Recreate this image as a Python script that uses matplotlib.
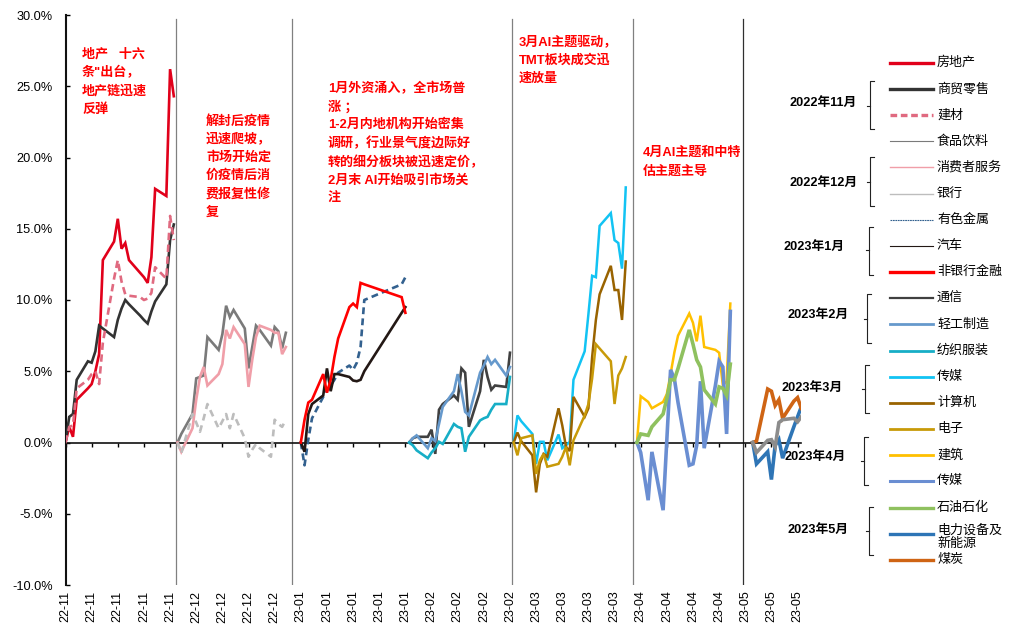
import matplotlib
matplotlib.use("Agg")
import matplotlib.pyplot as plt
import matplotlib.dates as mdates
from matplotlib.lines import Line2D
import pandas as pd

plt.rcParams["font.family"] = ["Liberation Sans", "Noto Sans CJK SC"]
plt.rcParams["axes.unicode_minus"] = False

W, H = 1013, 624

# ---- trading days of each month -------------------------------------------
nov_days = [1, 2, 3, 4, 7, 8, 9, 10, 11, 14, 15, 16, 17, 18, 21, 22, 23, 24, 25, 28, 29, 30]
dec_days = [1, 2, 5, 6, 7, 8, 9, 12, 13, 14, 15, 16, 19, 20, 21, 22, 23, 26, 27, 28, 29, 30]
jan_days = [3, 4, 5, 6, 9, 10, 11, 12, 13, 16, 17, 18, 19, 20, 30, 31]
feb_days = [1, 2, 3, 6, 7, 8, 9, 10, 13, 14, 15, 16, 17, 20, 21, 22, 23, 24, 27, 28]
mar_days = [1, 2, 3, 6, 7, 8, 9, 10, 13, 14, 15, 16, 17, 20, 21, 22, 23, 24, 27, 28, 29, 30, 31]
apr_days = [3, 4, 6, 7, 10, 11, 12, 13, 14, 17, 18, 19, 20, 21, 24, 25, 26, 27, 28]
may_days = [4, 5, 8, 9, 10, 11, 12, 15, 16, 17]

# ---- cumulative returns within the month (%) -------------------------------
nov_realestate = [0, 1.1, 0.4, 3.0, 3.8, 4.1, 5.0, 6.2, 12.8, 14.1, 15.7, 13.6, 14.0, 12.8, 11.9, 11.6, 11.2, 13.0, 17.8, 17.3, 26.2, 24.3]
nov_retail = [0, 1.8, 2.0, 4.4, 5.7, 5.6, 6.4, 8.2, 8.0, 7.4, 8.6, 9.4, 10.0, 9.7, 8.9, 8.6, 8.35, 9.2, 9.9, 11.1, 14.2, 15.3]
nov_buildmat = [0, 1.1, 1.2, 3.8, 4.4, 4.8, 5.0, 4.1, 7.0, 11.5, 12.8, 11.3, 10.4, 10.3, 10.2, 10.0, 10.1, 10.5, 12.3, 11.5, 15.9, 14.2]

dec_food = [0, 0.6, 2.0, 4.5, 4.6, 4.7, 7.4, 6.5, 7.6, 9.6, 8.8, 9.3, 8.0, 5.2, 6.7, 8.2, 7.9, 6.8, 8.1, 7.8, 6.6, 7.7]
dec_consumer = [0, -0.65, 1.0, 3.0, 4.6, 5.3, 4.0, 4.8, 5.5, 7.9, 7.3, 8.1, 6.9, 3.9, 5.8, 7.4, 8.2, 7.9, 7.7, 7.7, 6.2, 6.7]
dec_bank = [0, -0.75, 2.0, 1.4, 0.75, 1.7, 2.7, 1.0, 1.5, 2.0, 1.0, 2.0, 0.3, -1.0, -0.5, -0.1, -0.4, -1.0, 1.6, 1.3, 1.1, 1.6]

jan_metals = [0, -1.6, 0.2, 1.7, 3.2, 3.7, 4.0, 4.4, 4.9, 5.4, 5.1, 5.6, 6.7, 10.0, 11.1, 11.6]
jan_auto = [0, -0.65, 2.0, 2.7, 3.3, 5.2, 3.6, 4.8, 4.8, 4.6, 4.35, 4.3, 4.4, 5.0, 9.1, 9.5]
jan_nonbank = [0, 1.6, 2.8, 3.0, 4.8, 3.5, 4.4, 6.0, 7.3, 9.5, 9.75, 9.5, 11.2, 11.1, 10.2, 9.1]

feb_telecom = [0, 0.3, 0.4, 0.4, 0.9, -0.8, 2.3, 2.7, 3.3, 3.0, 5.2, 4.9, 1.1, 3.6, 5.8, 4.6, 3.7, 4.0, 3.9, 6.3]
feb_lightind = [0, 0.3, 0.5, -0.4, 0.3, 0.1, 1.3, 2.5, 3.6, 4.8, 3.6, 2.15, 1.9, 4.9, 5.4, 6.0, 5.5, 5.8, 4.7, 5.3]
feb_textile = [0, -0.2, -0.55, -1.1, -0.7, -0.4, 0.05, -0.1, 1.3, 1.1, 1.0, -0.65, 0.4, 1.55, 1.7, 1.8, 2.3, 2.7, 2.7, 4.6]

mar_media = [0, 1.9, 1.5, 0.6, -1.5, 0.05, 0.05, -1.25, 0.56, -0.4, -0.2, 0.05, 4.4, 6.4, 9.0, 11.7, 11.6, 15.2, 16.1, 14.2, 14.0, 12.2, 17.9]
mar_computer = [0, 0.7, 0.1, -0.9, -3.5, -1.5, -0.8, -1.0, 2.4, 1.2, -0.3, -0.6, 3.2, 1.8, 2.4, 6.0, 8.6, 10.4, 12.4, 10.7, 10.7, 8.6, 12.7]
mar_electronics = [0, -0.9, 0.3, 0.5, -2.2, -1.25, -0.8, -1.7, -1.5, -1.0, -0.3, -1.6, 0.15, 1.9, 2.7, 4.5, 6.9, 6.6, 5.7, 2.7, 4.7, 5.2, 6.0]

apr_construction = [0, 3.25, 2.85, 2.4, 2.85, 3.4, 4.8, 6.3, 7.5, 9.05, 8.4, 7.1, 8.9, 6.7, 6.5, 6.3, 4.0, 4.3, 9.75]
apr_media = [0, -0.7, -4.05, -0.66, -4.75, 0.2, 5.1, 4.5, 2.8, -1.6, -1.5, -0.2, 4.3, -0.4, 4.0, 5.7, 5.3, 0.6, 9.2]
apr_petro = [0, 0.6, 0.5, 1.1, 2.0, 3.1, 4.4, 4.4, 5.2, 7.9, 6.9, 5.8, 5.3, 3.7, 2.7, 3.9, 3.8, 3.3, 5.5]

may_power = [0, -1.5, -0.65, -2.6, -0.2, 0.2, -1.1, 1.1, 1.8, 2.5]
may_coal = [0, 0.1, 3.75, 3.6, 2.6, 3.0, 1.7, 2.9, 3.15, 2.4]
may_other = [0, -0.7, 0.15, 0.2, -0.3, 1.4, 1.6, 1.7, 1.45, 1.8]

months = {
    "nov": ("2022-11", nov_days), "dec": ("2022-12", dec_days),
    "jan": ("2023-01", jan_days), "feb": ("2023-02", feb_days),
    "mar": ("2023-03", mar_days), "apr": ("2023-04", apr_days),
    "may": ("2023-05", may_days),
}


def month_dates(key):
    prefix, days = months[key]
    return pd.to_datetime([f"{prefix}-{d:02d}" for d in days])


# (label, month, values, colour, line width, dashes, legend width, legend dashes)
series = [
    ("房地产", "nov", nov_realestate, "#E1001A", 1.9, None, 2.4, None),
    ("商贸零售", "nov", nov_retail, "#333333", 1.9, None, 2.4, None),
    ("建材", "nov", nov_buildmat, "#E06A80", 1.9, (2.8, 1.7), 2.4, (2.0, 1.1)),
    ("食品饮料", "dec", dec_food, "#7A7A7A", 1.9, None, 0.8, None),
    ("消费者服务", "dec", dec_consumer, "#F09EA8", 1.9, None, 1.0, None),
    ("银行", "dec", dec_bank, "#BDBDBD", 1.9, (2.6, 1.9), 1.0, None),
    ("有色金属", "jan", jan_metals, "#33618F", 1.9, (2.6, 1.6), 0.8, (1.6, 0.6)),
    ("汽车", "jan", jan_auto, "#231815", 1.9, None, 0.8, None),
    ("非银行金融", "jan", jan_nonbank, "#FF0000", 1.9, None, 2.4, None),
    ("通信", "feb", feb_telecom, "#404040", 1.9, None, 1.6, None),
    ("轻工制造", "feb", feb_lightind, "#6699CC", 1.9, None, 2.0, None),
    ("纺织服装", "feb", feb_textile, "#17AEC6", 1.9, None, 2.0, None),
    ("传媒", "mar", mar_media, "#12C3F3", 1.8, None, 2.0, None),
    ("计算机", "mar", mar_computer, "#996300", 1.8, None, 2.0, None),
    ("电子", "mar", mar_electronics, "#C89A08", 1.8, None, 2.0, None),
    ("建筑", "apr", apr_construction, "#FFC000", 1.8, None, 2.0, None),
    ("传媒", "apr", apr_media, "#6A8ED2", 2.6, None, 2.2, None),
    ("石油石化", "apr", apr_petro, "#8FC15F", 2.6, None, 2.4, None),
    ("电力设备及\n新能源", "may", may_power, "#2E75B6", 2.6, None, 2.4, None),
    ("煤炭", "may", may_coal, "#CF6414", 2.6, None, 2.4, None),
    (None, "may", may_other, "#8C8C8C", 2.6, None, None, None),
]

# month boundaries drawn as vertical separators
separators = ["2022-11-30 14:00", "2022-12-31 18:00", "2023-02-28 16:00",
              "2023-04-01 22:00", "2023-05-01 12:00"]
separator_colors = ["#808080", "#808080", "#808080", "#808080", "#303030"]

notes = [
    (82, 54, 18.4, ["地产   十六", "条\"出台，", "地产链迅速", "反弹"]),
    (206, 121.7, 18.1, ["解封后疫情", "迅速爬坡，", "市场开始定", "价疫情后消", "费报复性修", "复"]),
    (327.7, 88.3, 18.45, ["1月外资涌入，全市场普", "涨 ；", "1-2月内地机构开始密集",
                          "调研，行业景气度边际好", "转的细分板块被迅速定价，",
                          "2月末 AI开始吸引市场关", "注"]),
    (519, 41.7, 18.3, ["3月AI主题驱动，", "TMT板块成交迅", "速放量"]),
    (642.7, 152.7, 19.0, ["4月AI主题和中特", "估主题主导"]),
]

groups = [
    ("2022年11月", 789, 103, 870, 80.7, 129.3, 106),
    ("2022年12月", 789, 183, 870, 157, 206, 181.7),
    ("2023年1月", 783, 247, 869, 226.7, 275, 250),
    ("2023年2月", 787, 315, 867, 294, 342.7, 319),
    ("2023年3月", 781, 388, 865, 365, 413, 389),
    ("2023年4月", 784, 457, 864, 436.7, 485, 460.7),
    ("2023年5月", 787, 530, 869, 506.7, 555, 530.7),
]


def fx(px):
    return px / W


def fy(py):
    return 1 - py / H


fig = plt.figure(figsize=(W / 100, H / 100), dpi=100)
fig.patch.set_facecolor("white")
ax = fig.add_axes([fx(65.5), fy(585), (801.3 - 65.5) / W, (585 - 15) / H])

for label, key, vals, color, lw, dashes, _, _ in series:
    kw = dict(color=color, lw=lw, solid_joinstyle="miter", zorder=3)
    if dashes is not None:
        kw["dashes"] = dashes
    ax.plot(month_dates(key), vals, **kw)

for d, c in zip(separators, separator_colors):
    ax.axvline(pd.Timestamp(d), ymin=0, ymax=0.9925, color=c, lw=0.9, zorder=1)

ax.set_xlim(pd.Timestamp("2022-11-01"), pd.Timestamp("2023-05-17"))
ax.set_ylim(-10, 30)

# y axis
yt = list(range(-10, 31, 5))
ax.set_yticks(yt)
ax.set_yticklabels([f"{v:.1f}%" for v in yt])
ax.tick_params(axis="y", direction="in", length=3, width=1, pad=9.2,
               labelsize=9.2, colors="black")
ax.spines["left"].set_linewidth(1.5)
ax.spines["left"].set_color("#111111")
ax.spines["top"].set_visible(False)
ax.spines["right"].set_visible(False)

# zero line carries the weekly ticks
ax.spines["bottom"].set_position(("data", 0))
ax.spines["bottom"].set_linewidth(1.2)
ax.spines["bottom"].set_color("#111111")
ax.xaxis.set_major_locator(mdates.WeekdayLocator(byweekday=mdates.TU))
ax.tick_params(axis="x", direction="out", length=3, width=1, labelbottom=False)

# weekly labels at the bottom of the plot
sec = ax.secondary_xaxis("bottom")
sec.xaxis.set_major_locator(mdates.WeekdayLocator(byweekday=mdates.TU))
sec.xaxis.set_major_formatter(mdates.DateFormatter("%y-%m"))
sec.tick_params(length=0, pad=4, labelsize=9, labelrotation=90)
sec.spines["bottom"].set_visible(False)

# annotations
for x0, y0, step, lines in notes:
    for i, t in enumerate(lines):
        fig.text(fx(x0), fy(y0 + i * step), t, color="#FF0000", fontsize=9.4,
                 fontweight="bold", ha="left", va="center")

# legend
leg_y0, leg_step = 62.7, 26.17
legend_items = [s for s in series if s[0] is not None]
for i, (label, key, vals, color, lw, dashes, llw, ldash) in enumerate(legend_items):
    y = leg_y0 + i * leg_step
    kw = dict(color=color, lw=llw, transform=fig.transFigure)
    if ldash is not None:
        kw["dashes"] = ldash
    fig.add_artist(Line2D([fx(890), fx(933)], [fy(y), fy(y)], **kw))
    first, *rest = label.split("\n")
    shift = -3.5 if rest else 0.0
    fig.text(fx(937), fy(y + shift), first, fontsize=9.4, ha="left", va="center",
             color="black")
    for j, extra in enumerate(rest, 1):
        fig.text(fx(937), fy(y + shift + 14.0 * j), extra, fontsize=9.4, ha="left",
                 va="center", color="black")

# month groups with brackets
for name, tx, ty, bx, top, bot, mid in groups:
    fig.text(fx(tx), fy(ty), name, fontsize=9.2, fontweight="bold",
             ha="left", va="center", color="black")
    fig.add_artist(Line2D([fx(bx + 3.5), fx(bx), fx(bx), fx(bx + 3.5)],
                          [fy(top), fy(top), fy(bot), fy(bot)],
                          color="#222222", lw=0.8, transform=fig.transFigure))
    fig.add_artist(Line2D([fx(bx - 3.5), fx(bx)], [fy(mid), fy(mid)],
                          color="#222222", lw=0.8, transform=fig.transFigure))

fig.savefig("out.png", dpi=100, facecolor="white")
